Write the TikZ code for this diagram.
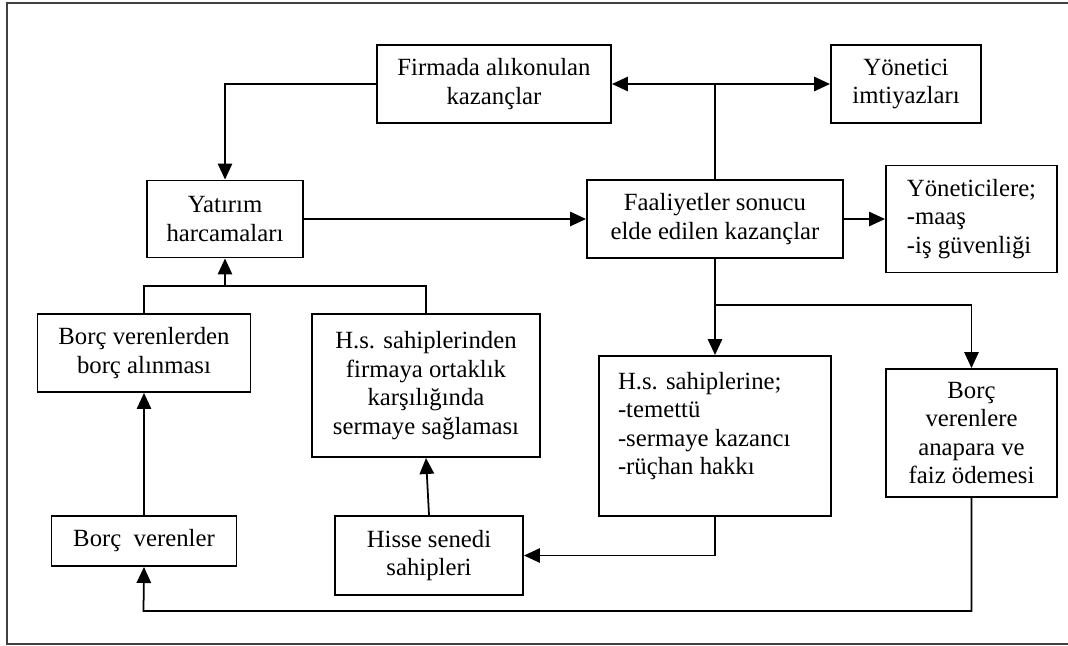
\documentclass[tikz,border=0pt]{standalone}
\usepackage{fontspec}
\setmainfont{Liberation Serif}
\usetikzlibrary{arrows.meta}

\begin{document}
\begin{tikzpicture}[auto, thick, >={Triangle[length=.4cm, width=.36cm]}, box node/.style={rectangle, draw, line width=1.4pt, align=center, inner sep=2pt, font=\fontsize{17.6}{20.2}\selectfont}, flow line/.style={line width=1.25pt}, frame line/.style={draw=black!75, line width=1.2pt}] %Coordinates in cm, 1px of the page = .025cm
\useasboundingbox (0,0) rectangle (26.7,-16.125);
\draw[frame line] (26.8,-.075) -- (.175,-.075) -- (.175,-16.1) -- (26.8,-16.1);
\node[box node, minimum width=5.85cm, minimum height=1.95cm](firmada) at (12.35,-2.1){Firmada alıkonulan\\kazançlar};
\node[box node, node distance=10.3cm, minimum width=3.75cm, minimum height=1.95cm](yonetici)[right of=firmada]{Yönetici\\imtiyazları};
\node[box node, minimum width=3.9cm, minimum height=1.925cm](yatirim) at (5.625,-5.475){Yatırım\\harcamaları};
\node[box node, node distance=12.25cm, minimum width=6.4cm, minimum height=1.95cm](faaliyet)[right of=yatirim]{Faaliyetler sonucu\\elde edilen kazançlar};
\node[box node, node distance=6.4125cm, align=left, minimum width=4.275cm, minimum height=2.675cm](yoneticilere)[right of=faaliyet]{Yöneticilere;\\-maaş\\-iş güvenliği};
\node[box node, minimum width=5.325cm, minimum height=1.95cm](borcalim) at (3.6,-8.825){Borç verenlerden\\borç alınması};
\node[box node, node distance=4.7cm, minimum width=4.625cm, minimum height=1.25cm](borcveren)[below of=borcalim]{Borç\ \ verenler};
\node[box node, minimum width=5.7cm, minimum height=3.575cm](hsortak) at (10.65,-9.6375){H.s. sahiplerinden\\firmaya ortaklık\\karşılığında\\sermaye sağlaması};
\node[box node, minimum width=4.7cm, minimum height=1.975cm](hisse) at (10.725,-13.8875){Hisse senedi\\sahipleri};
\node[box node, node distance=5.425cm, minimum width=5.8cm, minimum height=4cm](hspay)[below of=faaliyet]{};
\node[box node, draw=none, anchor=north west, align=left, inner sep=0pt](hspaytext) at ([xshift=.475cm, yshift=-.41cm]hspay.north west){H.s. sahiplerine;\\-temettü\\-sermaye kazancı\\-rüçhan hakkı};
\node[box node, node distance=5.35cm, minimum width=4.275cm, minimum height=3.2cm](borcode)[below of=yoneticilere]{Borç\\verenlere\\anapara ve\\faiz ödemesi};

\coordinate (top) at (faaliyet.north |- firmada.east);
\coordinate (merge) at (5.625,-7.15);
\coordinate (branch) at (17.875,-7.625);
\coordinate (low) at (3.5875,-15.275);

\draw[flow line] (faaliyet.north) -- (top);
\draw[flow line, ->] (top) -- (firmada.east);
\draw[flow line, ->] (top) -- (yonetici.west);
\draw[flow line, ->] (firmada.west) -| (yatirim.north);
\draw[flow line, ->] (yatirim.east) -- (faaliyet.west);
\draw[flow line, ->] (faaliyet.east) -- (yoneticilere.west);
\draw[flow line] (borcalim.north) |- (merge) -| (hsortak.north);
\draw[flow line, ->] (merge) -- (yatirim.south);
\draw[flow line, ->] (borcveren.north) -- (borcalim.south);
\draw[flow line, ->] (hisse.north) -- (hsortak.south);
\draw[flow line] (faaliyet.south) -- (branch);
\draw[flow line, ->] (branch) -- (hspay.north);
\draw[flow line, ->] (branch) -| (borcode.north);
\draw[flow line, ->] (hspay.south) |- (hisse.east);
\draw[flow line, ->] (borcode.south) |- (low) -- (borcveren.south);
\end{tikzpicture}
\end{document}
